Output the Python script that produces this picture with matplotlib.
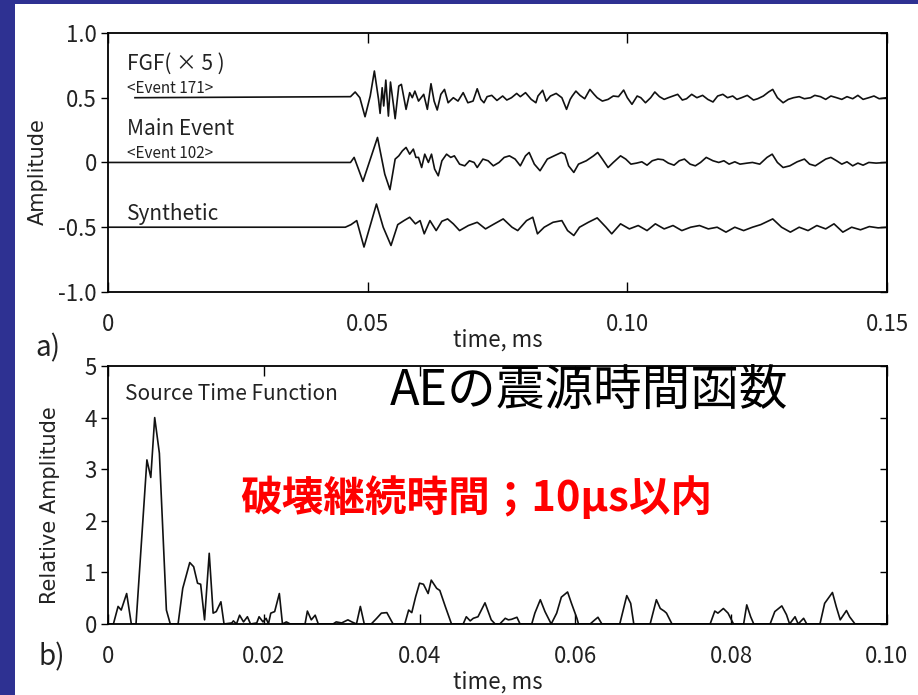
import matplotlib.pyplot as plt
from matplotlib.patches import Rectangle

plt.rcParams["font.family"] = ["Noto Sans CJK JP", "DejaVu Sans"]
plt.rcParams["axes.unicode_minus"] = False

# Waveforms (time in ms, amplitude offset from each trace's baseline)
fgf_t = [0.0052, 0.0467, 0.0476, 0.0485, 0.0495, 0.0505, 0.0513, 0.0521, 0.0524, 0.0528,
         0.0531, 0.0535, 0.0540, 0.0544, 0.0550, 0.0553, 0.0560, 0.0565, 0.0574, 0.0581,
         0.0586, 0.0591, 0.0598, 0.0608, 0.0615, 0.0622, 0.0628, 0.0634, 0.0641, 0.0648,
         0.0655, 0.0665, 0.0674, 0.0684, 0.0693, 0.0703, 0.0711, 0.0718, 0.0724, 0.0730,
         0.0739, 0.0749, 0.0760, 0.0768, 0.0777, 0.0787, 0.0794, 0.0804, 0.0815, 0.0824,
         0.0828, 0.0837, 0.0844, 0.0852, 0.0863, 0.0874, 0.0883, 0.0890, 0.0894, 0.0901,
         0.0909, 0.0918, 0.0928, 0.0936, 0.0942, 0.0952, 0.0963, 0.0973, 0.0983, 0.0993,
         0.1000, 0.1009, 0.1019, 0.1026, 0.1035, 0.1045, 0.1053, 0.1062, 0.1071, 0.1079,
         0.1088, 0.1097, 0.1106, 0.1114, 0.1124, 0.1134, 0.1145, 0.1155, 0.1165, 0.1174,
         0.1184, 0.1193, 0.1203, 0.1211, 0.1220, 0.1231, 0.1243, 0.1251, 0.1262, 0.1272,
         0.1280, 0.1289, 0.1300, 0.1310, 0.1320, 0.1331, 0.1341, 0.1353, 0.1361, 0.1372,
         0.1382, 0.1392, 0.1403, 0.1413, 0.1423, 0.1434, 0.1444, 0.1454, 0.1465, 0.1475,
         0.1485, 0.1499]
fgf_amp = [0.0, 0.008, 0.044, 0.0, -0.147, 0.013, 0.206, -0.013, -0.121, 0.077,
           -0.064, 0.136, -0.142, 0.121, -0.064, -0.162, 0.090, 0.103, -0.090, 0.039,
           0.0, 0.051, -0.026, 0.026, -0.090, 0.108, -0.026, -0.095, 0.026, 0.064,
           -0.039, 0.0, -0.026, 0.039, -0.039, -0.026, 0.069, -0.013, -0.039, 0.008,
           0.018, -0.021, 0.013, -0.018, 0.0, 0.033, 0.008, 0.039, -0.013, -0.039,
           0.013, 0.057, -0.026, 0.013, 0.033, 0.0, -0.090, -0.013, 0.013, 0.051,
           0.018, -0.008, 0.064, 0.026, 0.0, -0.026, -0.013, 0.013, 0.008, 0.059,
           0.0, -0.051, 0.013, 0.0, -0.039, 0.0, 0.044, 0.008, -0.013, 0.0,
           0.013, 0.026, -0.018, -0.008, 0.026, 0.0, 0.018, -0.013, -0.033, 0.013,
           0.026, 0.0, 0.013, -0.013, 0.0, 0.018, -0.018, -0.008, 0.013, 0.044,
           0.064, 0.0, -0.039, -0.013, 0.0, 0.008, -0.008, 0.0, 0.018, 0.008,
           -0.013, 0.013, 0.0, -0.013, 0.008, -0.008, 0.018, -0.013, 0.0, 0.013,
           -0.008, 0.0]

main_t = [0.0, 0.0467, 0.0474, 0.0491, 0.0519, 0.0533, 0.0543, 0.0553, 0.0560, 0.0567,
          0.0574, 0.0581, 0.0588, 0.0593, 0.0598, 0.0604, 0.0610, 0.0617, 0.0623, 0.0629,
          0.0636, 0.0643, 0.0652, 0.0660, 0.0667, 0.0677, 0.0687, 0.0696, 0.0705, 0.0711,
          0.0722, 0.0732, 0.0742, 0.0753, 0.0763, 0.0773, 0.0784, 0.0794, 0.0804, 0.0811,
          0.0821, 0.0832, 0.0846, 0.0859, 0.0873, 0.0880, 0.0887, 0.0897, 0.0906, 0.0921,
          0.0935, 0.0943, 0.0952, 0.0963, 0.0973, 0.0987, 0.0997, 0.1007, 0.1018, 0.1028,
          0.1038, 0.1048, 0.1059, 0.1069, 0.1079, 0.1090, 0.1100, 0.1110, 0.1121, 0.1131,
          0.1141, 0.1152, 0.1165, 0.1176, 0.1186, 0.1196, 0.1207, 0.1217, 0.1231, 0.1241,
          0.1255, 0.1269, 0.1279, 0.1289, 0.1300, 0.1313, 0.1327, 0.1341, 0.1351, 0.1362,
          0.1372, 0.1382, 0.1392, 0.1403, 0.1413, 0.1423, 0.1434, 0.1444, 0.1454, 0.1465,
          0.1479, 0.1500]
main_amp = [0.0, 0.0, 0.039, -0.146, 0.193, -0.090, -0.210, 0.026, 0.051, 0.090,
            0.116, 0.064, 0.103, 0.039, 0.039, -0.039, 0.064, 0.0, 0.064, -0.051,
            -0.103, 0.013, 0.064, 0.039, 0.051, -0.013, -0.026, 0.013, 0.0, -0.039,
            0.026, 0.013, -0.026, 0.0, 0.039, 0.051, 0.026, -0.026, 0.051, 0.077,
            -0.013, -0.064, 0.026, 0.051, 0.077, 0.064, -0.026, -0.077, -0.013, 0.013,
            0.051, 0.077, 0.026, -0.039, 0.0, 0.051, 0.026, -0.013, -0.005, 0.005,
            -0.021, 0.013, 0.026, 0.021, -0.005, -0.021, 0.013, 0.026, -0.013, -0.026,
            0.0, 0.039, 0.013, 0.0, 0.013, -0.013, 0.005, -0.013, -0.005, 0.0,
            -0.013, 0.039, 0.064, 0.0, -0.039, -0.026, 0.005, 0.026, -0.013, -0.026,
            0.0, 0.026, 0.039, 0.013, -0.013, 0.005, -0.026, -0.005, -0.021, 0.0,
            -0.005, 0.0]

synth_t = [0.0, 0.0457, 0.0468, 0.0479, 0.0493, 0.0517, 0.0530, 0.0545, 0.0558, 0.0570,
           0.0581, 0.0592, 0.0601, 0.0609, 0.0620, 0.0632, 0.0643, 0.0654, 0.0665, 0.0677,
           0.0694, 0.0711, 0.0727, 0.0744, 0.0761, 0.0778, 0.0789, 0.0806, 0.0818, 0.0827,
           0.0840, 0.0857, 0.0874, 0.0885, 0.0897, 0.0908, 0.0925, 0.0942, 0.0959, 0.0970,
           0.0987, 0.1004, 0.1021, 0.1038, 0.1054, 0.1071, 0.1088, 0.1105, 0.1122, 0.1139,
           0.1156, 0.1173, 0.1190, 0.1207, 0.1224, 0.1241, 0.1257, 0.1280, 0.1297, 0.1314,
           0.1331, 0.1348, 0.1365, 0.1382, 0.1398, 0.1415, 0.1432, 0.1449, 0.1466, 0.1483,
           0.1500]
synth_amp = [0.0, 0.0, 0.020, 0.051, -0.153, 0.179, 0.0, -0.141, 0.020, 0.051,
             0.077, 0.026, 0.051, -0.051, 0.051, -0.026, 0.046, 0.064, 0.026, -0.026,
             0.013, 0.038, -0.013, 0.026, 0.064, 0.0, -0.026, 0.051, 0.077, -0.051,
             0.0, 0.038, 0.051, -0.026, -0.064, 0.0, 0.038, 0.072, 0.0, -0.051,
             0.026, -0.013, 0.013, -0.026, 0.026, -0.013, 0.013, -0.026, 0.0, 0.013,
             -0.013, 0.0, -0.038, 0.0, -0.026, 0.0, 0.020, 0.064, 0.0, -0.038,
             0.0, -0.026, 0.013, -0.013, 0.026, -0.038, 0.0, -0.020, 0.005, -0.005,
             0.0]

# Source time function
stf_t = [0.0000, 0.0007, 0.0013, 0.0017, 0.0024, 0.0030, 0.0036, 0.0050, 0.0055, 0.0060,
         0.0066, 0.0075, 0.0080, 0.0090, 0.0096, 0.0105, 0.0110, 0.0115, 0.0119, 0.0124,
         0.0130, 0.0135, 0.0139, 0.0145, 0.0149, 0.0159, 0.0161, 0.0165, 0.0169, 0.0174,
         0.0179, 0.0183, 0.0191, 0.0194, 0.0199, 0.0203, 0.0206, 0.0209, 0.0214, 0.0220,
         0.0224, 0.0229, 0.0234, 0.0253, 0.0256, 0.0261, 0.0266, 0.0270, 0.0289, 0.0293,
         0.0300, 0.0308, 0.0313, 0.0319, 0.0324, 0.0329, 0.0338, 0.0345, 0.0351, 0.0358,
         0.0363, 0.0366, 0.0381, 0.0386, 0.0390, 0.0395, 0.0400, 0.0405, 0.0411, 0.0415,
         0.0422, 0.0426, 0.0433, 0.0441, 0.0456, 0.0460, 0.0465, 0.0469, 0.0475, 0.0484,
         0.0492, 0.0497, 0.0503, 0.0510, 0.0514, 0.0518, 0.0525, 0.0529, 0.0544, 0.0548,
         0.0555, 0.0561, 0.0569, 0.0576, 0.0582, 0.0590, 0.0595, 0.0602, 0.0604, 0.0619,
         0.0625, 0.0629, 0.0634, 0.0657, 0.0666, 0.0671, 0.0675, 0.0696, 0.0704, 0.0709,
         0.0714, 0.0717, 0.0724, 0.0743, 0.0773, 0.0779, 0.0783, 0.0790, 0.0796, 0.0803,
         0.0816, 0.0820, 0.0825, 0.0829, 0.0850, 0.0856, 0.0865, 0.0871, 0.0875, 0.0882,
         0.0886, 0.0893, 0.0897, 0.0914, 0.0920, 0.0930, 0.0935, 0.0940, 0.0948, 0.0952,
         0.0959, 0.0974, 0.1000]
stf_amp = [0.0, 0.0, 0.34, 0.27, 0.59, 0.0, 0.0, 3.18, 2.84, 4.0,
           3.31, 0.27, 0.0, 0.0, 0.69, 1.19, 1.11, 0.79, 0.77, 0.08,
           1.37, 0.21, 0.24, 0.43, 0.0, 0.02, 0.06, 0.0, 0.17, 0.04,
           0.14, 0.0, 0.02, 0.14, 0.04, 0.11, 0.0, 0.21, 0.24, 0.59,
           0.0, 0.04, 0.0, 0.0, 0.25, 0.08, 0.17, 0.0, 0.0, 0.04,
           0.02, 0.08, 0.04, 0.0, 0.34, 0.0, 0.0, 0.11, 0.21, 0.22,
           0.08, 0.0, 0.0, 0.27, 0.22, 0.53, 0.79, 0.77, 0.59, 0.85,
           0.69, 0.65, 0.34, 0.0, 0.0, 0.14, 0.06, 0.11, 0.14, 0.41,
           0.08, 0.0, 0.0, 0.11, 0.08, 0.09, 0.13, 0.0, 0.0, 0.21,
           0.47, 0.24, 0.0, 0.21, 0.52, 0.62, 0.40, 0.11, 0.0, 0.0,
           0.08, 0.13, 0.0, 0.0, 0.55, 0.40, 0.0, 0.0, 0.47, 0.30,
           0.25, 0.21, 0.0, 0.0, 0.0, 0.25, 0.21, 0.30, 0.21, 0.0,
           0.0, 0.37, 0.14, 0.0, 0.0, 0.24, 0.35, 0.18, 0.0, 0.14,
           0.0, 0.11, 0.0, 0.0, 0.40, 0.61, 0.33, 0.08, 0.26, 0.14,
           0.0, 0.0, 0.0]

wave_xticks = [0, 0.05, 0.10, 0.15]
wave_xlabels = ["0", "0.05", "0.10", "0.15"]
wave_yticks = [1.0, 0.5, 0, -0.5, -1.0]
wave_ylabels = ["1.0", "0.5", "0", "-0.5", "-1.0"]
stf_xticks = [0, 0.02, 0.04, 0.06, 0.08, 0.10]
stf_xlabels = ["0", "0.02", "0.04", "0.06", "0.08", "0.10"]
stf_yticks = [0, 1, 2, 3, 4, 5]

BLUE = "#2e3192"
INK = "#222222"
LINE = "#111111"


def style_axes(ax, xticks, xlabels, yticks, ylabels):
    ax.set_xticks(xticks, xlabels)
    ax.set_yticks(yticks, ylabels)
    ax.tick_params(axis="x", direction="in", top=True, length=7, width=1.0,
                   pad=15, labelsize=16, labelcolor=INK)
    ax.tick_params(axis="y", direction="out", length=5, width=1.0,
                   pad=3, labelsize=16, labelcolor=INK)
    for s in ax.spines.values():
        s.set_linewidth(1.3)
    # inward ticks on the right edge
    right = ax.secondary_yaxis("right")
    right.set_yticks(yticks)
    right.tick_params(direction="in", length=5, width=1.0, labelright=False)
    right.spines["right"].set_linewidth(1.3)


fig = plt.figure(figsize=(9.18, 6.95), dpi=100, facecolor=BLUE)
fig.add_artist(Rectangle((15 / 918, 0), 1, 1 - 4 / 695, transform=fig.transFigure,
                         facecolor="white", edgecolor="none", zorder=0))

# a) waveforms
ax1 = fig.add_axes([0.1176, 0.5799, 0.8486, 0.3727])
ax1.plot(fgf_t, [0.5 + a for a in fgf_amp], color=LINE, lw=1.2)
ax1.plot(main_t, main_amp, color=LINE, lw=1.2)
ax1.plot(synth_t, [-0.5 + a for a in synth_amp], color=LINE, lw=1.2)
ax1.set_xlim(0, 0.15)
ax1.set_ylim(-1.0, 1.0)
style_axes(ax1, wave_xticks, wave_xlabels, wave_yticks, wave_ylabels)
ax1.set_xlabel("time, ms", fontsize=16, color=INK, labelpad=-5)
ax1.set_ylabel("Amplitude", fontsize=15, color=INK, family="DejaVu Sans")
ax1.yaxis.set_label_coords(-0.077, 0.463)

ax1.text(0.0037, 0.714, "FGF( × 5 )", fontsize=15, color=INK, va="baseline")
ax1.text(0.0037, 0.539, "<Event 171>", fontsize=11, color=INK, va="baseline")
ax1.text(0.0037, 0.212, "Main Event", fontsize=15, color=INK, va="baseline")
ax1.text(0.0037, 0.032, "<Event 102>", fontsize=11, color=INK, va="baseline")
ax1.text(0.0037, -0.444, "Synthetic", fontsize=15, color=INK, va="baseline")

# b) source time function
ax2 = fig.add_axes([0.1176, 0.1022, 0.8486, 0.3712])
ax2.plot(stf_t, stf_amp, color=LINE, lw=1.2)
ax2.set_xlim(0, 0.10)
ax2.set_ylim(0, 5)
style_axes(ax2, stf_xticks, stf_xlabels, stf_yticks, [str(v) for v in stf_yticks])
ax2.set_xlabel("time, ms", fontsize=16, color=INK, labelpad=2)
ax2.set_ylabel("Relative Amplitude", fontsize=15, color=INK, family="DejaVu Sans")
ax2.yaxis.set_label_coords(-0.062, 0.461)

ax2.text(0.0022, 4.34, "Source Time Function", fontsize=15, color=INK, va="baseline")
ax2.text(0.0362, 4.24, "AEの震源時間函数", fontsize=35, color="black", va="baseline")
ax2.text(0.0170, 2.18, "破壊継続時間；10μs以内", fontsize=30, color="#ff0000",
         fontweight="bold", va="baseline")

fig.text(48 / 918, 1 - 348 / 695, "a)", fontsize=20, color=INK, ha="center", va="center")
fig.text(52 / 918, 1 - 657 / 695, "b)", fontsize=20, color=INK, ha="center", va="center")

fig.savefig("out.png", dpi=100, facecolor=fig.get_facecolor())
